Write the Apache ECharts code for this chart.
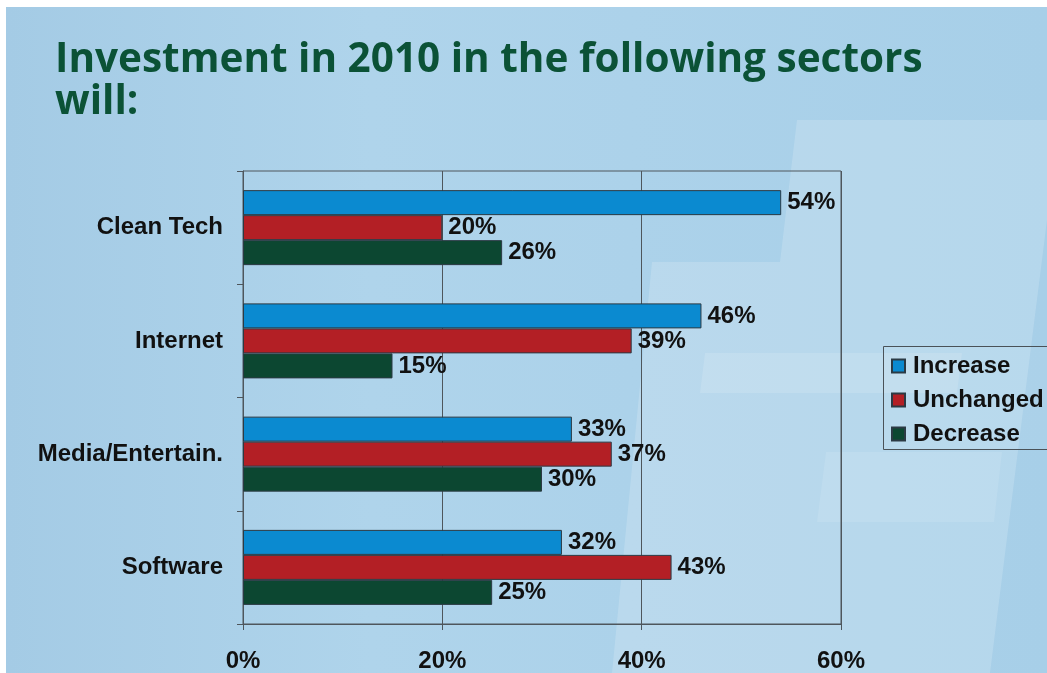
<!DOCTYPE html>
<html>
<head>
<meta charset="utf-8">
<script src="https://cdn.jsdelivr.net/npm/echarts@6/dist/echarts.min.js"></script>
<style>
  html, body { margin: 0; padding: 0; background: #ffffff; }
  #chart { width: 1047px; height: 673px; }
</style>
</head>
<body>
<div id="chart"></div>
<script>
// Survey: expected change in 2010 investment, by sector (percent of respondents)
const sectors = ['Clean Tech', 'Internet', 'Media/Entertain.', 'Software'];
const increase = [54, 46, 33, 32];
const unchanged = [20, 39, 37, 43];
const decrease = [26, 15, 30, 25];
const axisTicks = [0, 20, 40, 60];

const chart = echarts.init(document.getElementById('chart'), null, { renderer: 'canvas' });

const labelFont = { fontFamily: 'Liberation Sans, Arial, sans-serif', fontWeight: 'bold', fontSize: 24, color: '#111' };

function barSeries(name, values, color) {
  return {
    name: name,
    type: 'bar',
    data: values,
    barWidth: 25,
    barGap: '0%',
    itemStyle: { color: color, borderColor: '#2b3a44', borderWidth: 1 },
    label: Object.assign({ show: true, position: 'right', distance: 6, formatter: '{c}%' }, labelFont),
    emphasis: { disabled: true },
    z: 3
  };
}

chart.setOption({
  backgroundColor: '#ffffff',
  animation: false,
  graphic: [
    // slide backdrop
    { type: 'rect', z: -10, shape: { x: 6, y: 7, width: 1041, height: 666 },
      style: { fill: new echarts.graphic.LinearGradient(0, 0, 1, 0, [
        { offset: 0, color: '#a4cbe5' },
        { offset: 0.35, color: '#afd4eb' },
        { offset: 0.6, color: '#acd2ea' },
        { offset: 1, color: '#a7cfe8' }
      ]) } },
    // pale stepped panels on the right
    { type: 'polygon', z: -9, shape: { points: [[797,120],[1047,120],[1047,220],[990,673],[612,673],[652,262],[780,262]] },
      style: { fill: 'rgba(255,255,255,0.17)' } },
    { type: 'polygon', z: -9, shape: { points: [[705,353],[962,353],[957,393],[700,393]] },
      style: { fill: 'rgba(255,255,255,0.13)' } },
    { type: 'polygon', z: -9, shape: { points: [[826,452],[1002,452],[994,522],[817,522]] },
      style: { fill: 'rgba(255,255,255,0.10)' } },
    // legend frame
    { type: 'rect', z: 1, shape: { x: 883.5, y: 346.5, width: 200, height: 103 },
      style: { fill: 'rgba(255,255,255,0.05)', stroke: '#4a5258', lineWidth: 1 } }
  ],
  title: {
    text: 'Investment in 2010 in the following sectors\nwill:',
    left: 50,
    top: 34,
    textStyle: { fontFamily: 'Open Sans, sans-serif', fontWeight: 'bold', fontSize: 40.5, lineHeight: 42, color: '#0b5236' }
  },
  legend: {
    orient: 'vertical',
    left: 883,
    top: 346,
    padding: [8, 8, 8, 8],
    itemWidth: 13,
    itemHeight: 13,
    itemGap: 10,
    icon: 'rect',
    selectedMode: false,
    textStyle: Object.assign({ lineHeight: 24, padding: [0, 0, 0, 3] }, labelFont),
    data: ['Increase', 'Unchanged', 'Decrease']
  },
  grid: {
    left: 243, right: 206, top: 171, bottom: 48,
    show: true, borderColor: '#4e565c', borderWidth: 1, backgroundColor: 'transparent'
  },
  xAxis: {
    type: 'value',
    min: axisTicks[0],
    max: axisTicks[axisTicks.length - 1],
    interval: axisTicks[1] - axisTicks[0],
    axisLine: { show: true, lineStyle: { color: '#4e565c', width: 1 } },
    axisTick: { show: true, length: 6, lineStyle: { color: '#4e565c' } },
    splitLine: { show: true, lineStyle: { color: '#4e565c', width: 1 } },
    axisLabel: Object.assign({ margin: 25, formatter: '{value}%' }, labelFont)
  },
  yAxis: {
    type: 'category',
    inverse: true,
    data: sectors,
    axisLine: { show: true, lineStyle: { color: '#4e565c', width: 1 } },
    axisTick: { show: true, length: 6, inside: false, lineStyle: { color: '#4e565c' } },
    splitLine: { show: false },
    axisLabel: Object.assign({ margin: 20 }, labelFont)
  },
  series: [
    barSeries('Increase', increase, '#0b8ad0'),
    barSeries('Unchanged', unchanged, '#b31f25'),
    barSeries('Decrease', decrease, '#0c4731')
  ]
});
</script>
</body>
</html>
